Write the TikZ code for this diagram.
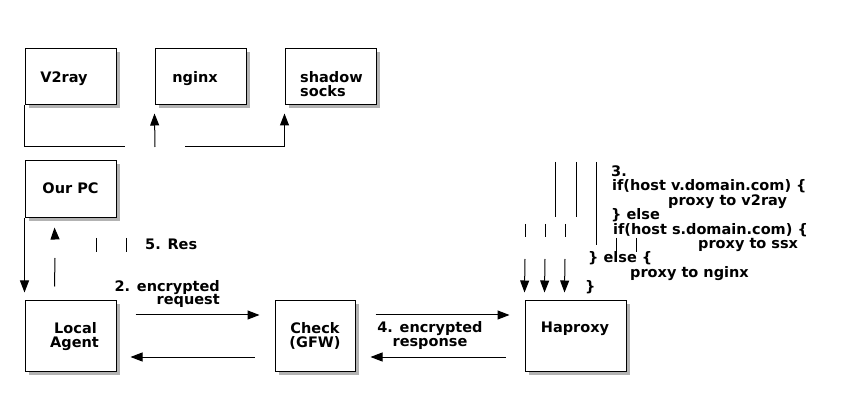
\documentclass[tikz,border=0pt]{standalone}
\usepackage{fontspec}
\setmainfont{DejaVu Sans}
\usetikzlibrary{arrows.meta,shadows}

\tikzset{
  box/.style={draw, line width=1pt, fill=white, inner sep=0pt, minimum width=91pt,
    drop shadow={shadow xshift=3.5pt, shadow yshift=-3.5pt, fill=black!50, opacity=0.6}},
  txt/.style={inner sep=0pt, font=\bfseries\fontsize{14.5}{14.5}\selectfont},
  arr/.style={line width=1pt, -{Triangle[width=9pt,length=12pt]}},
  ln/.style={line width=1pt}
}

\begin{document}
\begin{tikzpicture}[x=1pt, y=-1pt]
\useasboundingbox (0,0) rectangle (860,406);
\node[box, minimum height=56pt] (v2ray) at (70.5,77) {};
\node[box, minimum height=56pt] (nginx) at (200.5,77) {};
\node[box, minimum height=56pt] (ss) at (330.5,77) {};
\node[box, minimum height=57pt] (pc) at (70.5,189.5) {};
\node[box, minimum height=70pt] (agent) at (70.5,336) {};
\node[box, minimum height=70pt, minimum width=80pt] (gfw) at (315,336) {};
\node[box, minimum height=70pt, minimum width=101pt] (ha) at (575.5,336) {};

\node[txt, anchor=base] (lv2ray) at (64,83) {V2ray};
\node[txt, anchor=base] (lnginx) at (195,83) {nginx};
\node[txt, anchor=base west] (lss1) at (300,83) {shadow};
\node[txt, anchor=base west] (lss2) at (300,97) {socks};
\node[txt, anchor=base] (lpc) at (70.5,194) {Our PC};
\node[txt, anchor=base] (lagent1) at (75.5,334) {Local};
\node[txt, anchor=base] (lagent2) at (74.5,348) {Agent};
\node[txt, anchor=base] (lgfw1) at (315,334) {Check};
\node[txt, anchor=base] (lgfw2) at (315,348) {(GFW)};
\node[txt, anchor=base] (lha) at (575,333) {Haproxy};

\node[txt, anchor=base east] (req1) at (220,292) {2. encrypted};
\node[txt, anchor=base east] (req2) at (220,305) {request};
\node[txt, anchor=base] (resp1) at (430,332) {4. encrypted};
\node[txt, anchor=base] (resp2) at (430,346) {response};
\node[txt, anchor=base west] (res) at (145,250) {5. Res};

\node[txt, anchor=base west] (r1) at (611,177) {3.};
\node[txt, anchor=base west] (r2) at (612,191) {if(host v.domain.com) \{};
\node[txt, anchor=base west] (r3) at (668,206) {proxy to v2ray};
\node[txt, anchor=base west] (r4) at (611,220) {\} else};
\node[txt, anchor=base west] (r5) at (613,235) {if(host s.domain.com) \{};
\node[txt, anchor=base west] (r6) at (698,249) {proxy to ssx};
\node[txt, anchor=base west] (r7) at (588,263) {\} else \{};
\node[txt, anchor=base west] (r8) at (630,278) {proxy to nginx};
\node[txt, anchor=base west] (r9) at (585,292) {\}};

\coordinate (top1) at (125,147);
\coordinate (top2) at (155,147);
\coordinate (top3) at (185,147);
\coordinate (up1) at (55,239);
\coordinate (up2) at (55,258);
\coordinate (dn1) at (525,259);
\coordinate (dn2) at (545,259);
\coordinate (dn3) at (565,259);

\draw[ln] (v2ray.south west) |- (top1);
\draw[arr] (top2) -- ([yshift=-8pt]nginx.south west);
\draw[arr] (top3) -| ([yshift=-8pt]ss.south west);

\draw[arr] (pc.south west) -- ([yshift=8pt]agent.north west);
\draw[arr] (up1) -- ([xshift=30pt,yshift=-9pt]pc.south west);
\draw[ln] (up2) -- ([xshift=30pt,yshift=14pt]agent.north west);
\draw[ln] (96,238) -- (96,252);
\draw[ln] (126,238) -- (126,252);

\draw[arr] ([xshift=19pt,yshift=21pt]agent.east) -- ([xshift=-15pt,yshift=21pt]gfw.west);
\draw[arr] ([xshift=-20pt,yshift=-21pt]gfw.west) -- ([xshift=14pt,yshift=-21pt]agent.east);
\draw[arr] ([xshift=20pt,yshift=21pt]gfw.east) -- ([xshift=-15pt,yshift=21pt]ha.west);
\draw[arr] ([xshift=-19pt,yshift=-21pt]ha.west) -- ([xshift=15pt,yshift=-21pt]gfw.east);

\draw[ln] (555,162) -- (555,217);
\draw[ln] (576,162) -- (576,217);
\draw[ln] (596,162) -- (596,245);
\draw[ln] (525,224) -- (525,237);
\draw[ln] (545,224) -- (545,237);
\draw[ln] (565,224) -- (565,237);
\draw[ln] (616,238) -- (616,252);
\draw[ln] (636,238) -- (636,252);
\draw[arr] (dn1) -- ([yshift=8pt]ha.north west);
\draw[arr] (dn2) -- ([xshift=20pt,yshift=8pt]ha.north west);
\draw[arr] (dn3) -- ([xshift=40pt,yshift=8pt]ha.north west);
\end{tikzpicture}
\end{document}
